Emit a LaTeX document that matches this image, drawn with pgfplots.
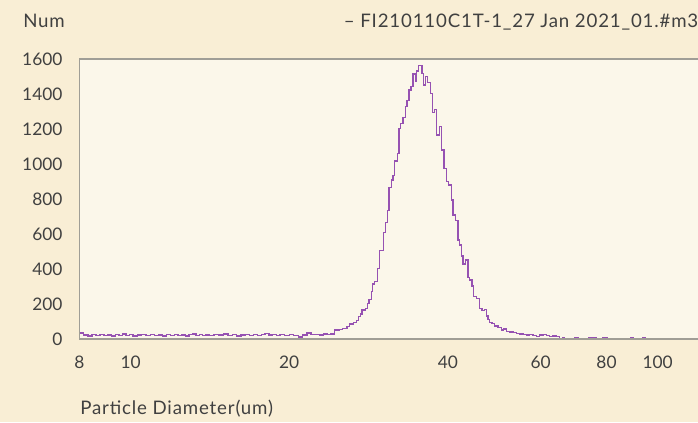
\documentclass[border=0pt]{standalone}
\usepackage{pgfplots}
\usepackage{pgfplotstable}
\usepackage{fontspec}
\setmainfont{Lato}
\newfontfamily\widefont[LetterSpace=4.5]{Lato}
\pgfplotsset{compat=1.18}
\definecolor{bgout}{RGB}{249,238,213}
\definecolor{bgin}{RGB}{251,247,234}
\definecolor{txt}{RGB}{64,64,64}
\definecolor{framecol}{RGB}{160,158,150}
\definecolor{histcol}{RGB}{150,82,178}
\pgfplotstableread{
d n
8.00 34
8.15 22
8.30 18
8.45 24
8.60 20
8.75 26
8.90 19
9.05 23
9.20 17
9.35 25
9.50 21
9.65 28
9.80 20
9.95 24
10.1 18
10.3 23
10.5 27
10.7 20
10.9 24
11.1 19
11.3 22
11.5 17
11.7 25
11.9 21
12.1 26
12.3 20
12.5 23
12.7 18
12.9 24
13.1 29
13.3 21
13.5 25
13.7 19
13.9 23
14.1 20
14.4 26
14.7 22
15.0 28
15.3 21
15.6 24
15.9 18
16.2 23
16.5 27
16.8 20
17.1 24
17.4 19
17.7 26
18.0 31
18.3 22
18.6 25
18.9 20
19.2 24
19.6 21
20.0 27
20.4 19
20.8 12
21.2 22
21.6 34
22.0 24
22.4 27
22.8 23
23.2 29
23.6 26
24.0 28
24.38 51
24.92 55
25.25 61
25.73 70
26.04 86
26.49 95
26.81 105
27.08 127
27.28 143
27.47 166
27.88 175
28.16 204
28.33 227
28.62 270
28.79 314
29.00 327
29.38 404
29.68 505
30.20 607
30.43 665
30.70 733
30.94 865
31.24 909
31.46 933
31.69 1017
32.07 1061
32.29 1204
32.53 1232
32.86 1265
33.21 1328
33.44 1362
33.73 1423
34.03 1442
34.33 1514
34.69 1470
34.93 1531
35.20 1562
35.71 1518
35.97 1451
36.29 1499
36.65 1467
37.04 1404
37.37 1295
37.74 1312
38.03 1166
38.58 1213
38.87 1080
39.31 975
39.72 899
40.07 880
40.60 794
40.89 709
41.32 676
41.79 566
42.10 537
42.41 474
42.71 429
43.16 451
43.65 352
43.98 337
44.42 303
44.76 242
45.29 232
45.95 175
46.41 162
46.96 170
47.31 131
47.64 110
48.00 93
48.50 88
49.06 74
49.77 67
50.51 51
51.02 57
51.63 42
52.38 40
53.14 36
53.94 32
54.72 29
55.52 25
56.35 23
57.17 27
58.00 21
58.87 13
59.72 23
60.59 27
61.50 21
62.39 13
63.30 17
64.24 13
65.18 4
66.12 10
66.62 2
69.59 6
70.82 0
73.98 6
75.28 0
75.61 6
76.60 0
78.63 6
80.37 0
88.88 6
89.86 0
93.65 6
94.68 0
120 0
}\histdata
\begin{document}
\begin{tikzpicture}
\path[use as bounding box, fill=bgout] (0,0) rectangle (523.5pt,316.5pt);
\begin{axis}[
  at={(59.625pt,62.25pt)}, anchor=south west,
  width=464.85pt, height=210pt, scale only axis,
  xmode=log, xmin=8, xmax=120, ymin=0, ymax=1600,
  axis background/.style={fill=bgin},
  axis line style={framecol, line width=0.8pt},
  axis on top,
  tick style={draw=none},
  xtick={8,10,20,40,60,80,100},
  xticklabels={8,10,20,40,60,80,100},
  ytick={0,200,400,600,800,1000,1200,1400,1600},
  yticklabels={0,200,400,600,800,1000,1200,1400,1600},
  tick label style={font=\fontsize{13pt}{15pt}\selectfont, text=txt, inner sep=0pt},
  xticklabel style={anchor=base, yshift=-22pt},
  yticklabel style={anchor=east, xshift=-12.6pt},
  /pgf/number format/assume math mode=true,
  clip=false,
]
\addplot[const plot, draw=histcol, line width=1pt] table[x=d, y=n] {\histdata};
\end{axis}
\node[anchor=base west, text=txt, font=\widefont\fontsize{14pt}{16pt}\selectfont, inner sep=0pt] at (17.25pt,296pt) {Num};
\node[anchor=base east, text=txt, font=\widefont\fontsize{14pt}{16pt}\selectfont, inner sep=0pt] at (523.9pt,296.2pt) {– FI210110C1T-1\_27 Jan 2021\_01.\#m3};
\node[anchor=base west, text=txt, font=\widefont\fontsize{14pt}{16pt}\selectfont, inner sep=0pt] at (60pt,6pt) {Particle Diameter(um)};
\end{tikzpicture}
\end{document}
